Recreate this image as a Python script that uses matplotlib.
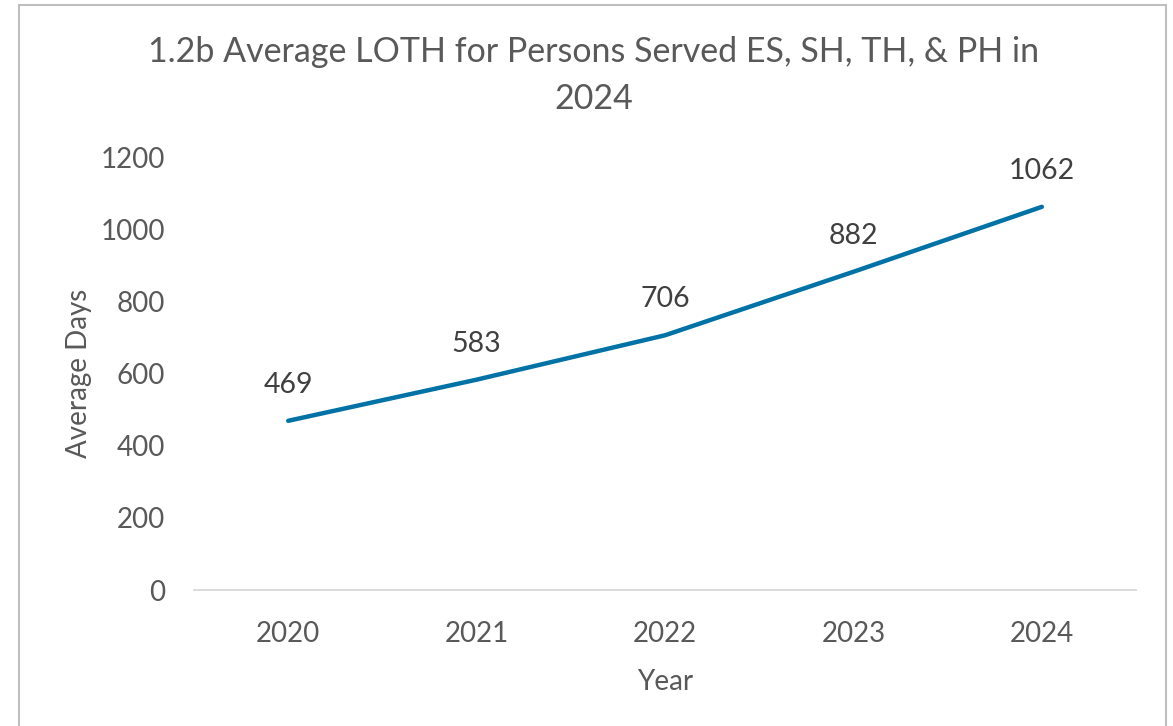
import matplotlib.pyplot as plt
from matplotlib.patches import Rectangle

years = ['2020', '2021', '2022', '2023', '2024']
avg_days = [469, 583, 706, 882, 1062]

txt = '#595959'
plt.rcParams['font.family'] = ['Lato', 'DejaVu Sans']

fig = plt.figure(figsize=(11.73, 7.26), dpi=100)
ax = fig.add_axes([0.1654, 0.1873, 0.8031, 0.5964])

x = list(range(len(years)))
ax.plot(x, avg_days, color='#0072A6', linewidth=3.2, solid_capstyle='round')
for xi, v in zip(x, avg_days):
    ax.annotate(str(v), (xi, v), xytext=(0, 26), textcoords='offset points',
                ha='center', va='center', fontsize=20.5, color='#404040')

ax.set_xlim(-0.5, 4.5)
ax.set_ylim(0, 1200)
ax.set_yticks(range(0, 1201, 200))
ax.set_xticks(x)
ax.set_xticklabels(years)
ax.tick_params(length=0, labelsize=20, colors=txt)
ax.tick_params(axis='x', pad=22)
ax.tick_params(axis='y', pad=21)
for s in ['top', 'right', 'left']:
    ax.spines[s].set_visible(False)
ax.spines['bottom'].set_color('#D9D9D9')
ax.spines['bottom'].set_linewidth(1.3)

ax.set_xlabel('Year', fontsize=20, color=txt, labelpad=16)
ax.set_ylabel('Average Days', fontsize=20, color=txt, labelpad=6)
fig.text(0.506, 0.928, '1.2b Average LOTH for Persons Served ES, SH, TH, & PH in',
         ha='center', va='center', fontsize=24.5, color=txt)
fig.text(0.506, 0.864, '2024', ha='center', va='center', fontsize=24.5, color=txt)

fig.patches.append(Rectangle((19 / 1173, -0.01), (1166 - 19) / 1173, 1.01 - 5 / 726,
                             transform=fig.transFigure, fill=False,
                             edgecolor='#BFBFBF', linewidth=1.5))

fig.savefig('out.png', dpi=100)
